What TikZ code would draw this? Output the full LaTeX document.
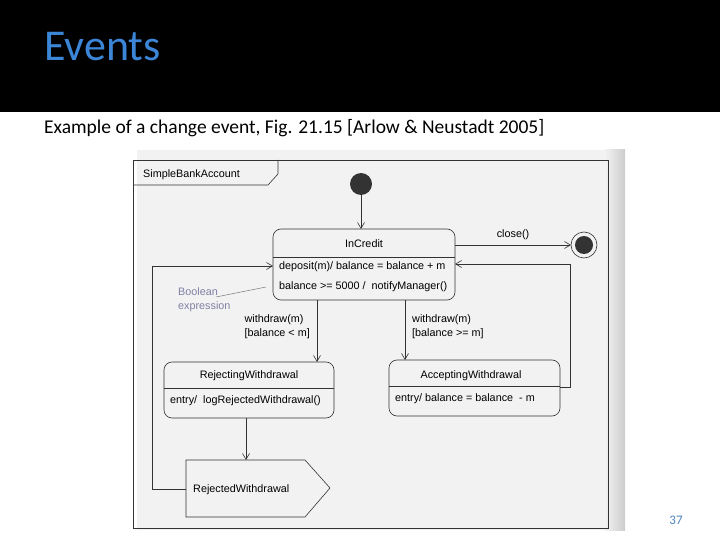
\documentclass[tikz,border=0pt]{standalone}
\usepackage{fontspec}
\setmainfont{Liberation Sans}
\newfontfamily\calib{Carlito}
\definecolor{ttl}{HTML}{3C86D8}
\usetikzlibrary{arrows.meta}
\begin{document}
\begin{tikzpicture}[x=1pt,y=-1pt,
  lbl/.style={font=\fontsize{10.8}{14}\selectfont, inner sep=0pt},
  ln/.style={draw=black!80, line width=0.6pt},
  arr/.style={ln, -{Straight Barb[length=6pt,width=7pt]}},
  st/.style={ln, rounded corners=8pt}]
\useasboundingbox (0,0) rectangle (720,540);
\fill[white] (0,0) rectangle (720,540);
\fill[black] (0,0) rectangle (720,112);
\node[anchor=west, text=ttl, font=\calib\fontsize{44}{48}\selectfont, inner sep=0] (title) at (44,47) {Events};
\node[anchor=west, font=\calib\fontsize{19.5}{22}\selectfont, inner sep=0] (sub) at (44,128) {Example of a change event, Fig. 21.15 [Arlow \& Neustadt 2005]};
% scan
\fill[black!5] (137,150) rectangle (625,530);
\shade[left color=black!5, right color=black!20] (605,150) rectangle (625,530);
% frame
\draw[ln] (133,160) rectangle (608,528);
\draw[ln] (133,185) -- (268,185) -- (278,174) -- (278,160);
\node[lbl, anchor=west] (fname) at (143,175) {SimpleBankAccount};
% initial
\fill[black!80] (361,184) circle (11);
\coordinate (init) at (361,195);
% InCredit
\draw[st] (273,229) rectangle (455,300);
\draw[ln] (273,257) -- (455,257);
\node[lbl] (ic) at (364,244) {InCredit};
\node[lbl, anchor=west] (dep) at (279,267) {deposit(m)/ balance = balance + m};
\node[lbl, anchor=west] (bal) at (279,287) {balance >= 5000 /\ \ notifyManager()};
\draw[arr] (init) -- (361,229);
% final
\draw[ln] (584,245) circle (13);
\fill[black!80] (584,245) circle (9);
\coordinate (fin) at (571,245);
\draw[arr] (455,245) -- (fin) node[lbl, midway, above=5pt] {close()};
% Boolean note
\node[lbl, anchor=west, align=left, text=blue!30!black!50] (bool) at (178,300) {Boolean\\expression};
\draw[draw=black!50, line width=0.5pt] (216,297) -- (266,287);
% Rejecting
\draw[st] (164,362) rectangle (334,418);
\draw[ln] (164,388) -- (334,388);
\node[lbl] (rw) at (249,376) {RejectingWithdrawal};
\node[lbl, anchor=west] (rwe) at (170,401) {entry/\ \ logRejectedWithdrawal()};
% Accepting
\draw[st] (389,360) rectangle (560,416);
\draw[ln] (389,386) -- (560,386);
\node[lbl] (aw) at (471,376) {AcceptingWithdrawal};
\node[lbl, anchor=west] (awe) at (395,399) {entry/ balance = balance \ - m};
% withdraw arrows
\draw[arr] (317,300) -- (317,362);
\node[lbl, anchor=east, align=left] (wl) at (310,327) {withdraw(m)\\{}[balance < m]};
\draw[arr] (405,300) -- (405,360);
\node[lbl, anchor=west, align=left] (wr) at (412,327) {withdraw(m)\\{}[balance >= m]};
% signal
\draw[ln] (186,460) -- (305,460) -- (330,488) -- (305,517) -- (186,517) -- cycle;
\node[lbl, anchor=west] (sig) at (193,490) {RejectedWithdrawal};
\draw[arr] (246,418) -- (246,460);
% loops
\draw[arr] (186,489) -- (152,489) -- (152,266) -- (273,266);
\draw[arr] (560,387) -- (570,387) -- (570,264) -- (455,264);
\node[text=ttl!70!gray, font=\calib\fontsize{13}{14}\selectfont, inner sep=0] (pg) at (676,520) {37};
\end{tikzpicture}
\end{document}
